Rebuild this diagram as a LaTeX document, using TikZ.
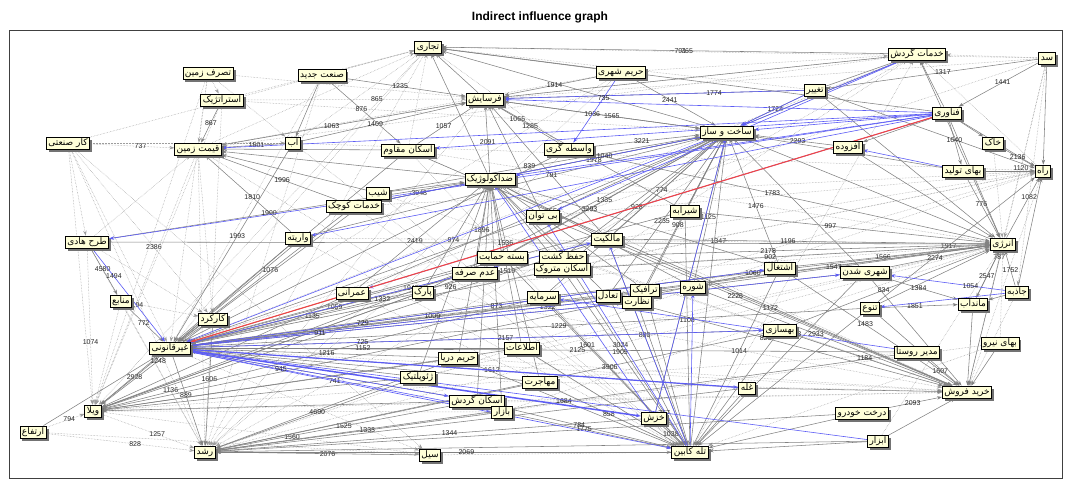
\documentclass[tikz,border=0pt]{standalone}
\usepackage{fontspec}
\setmainfont{Liberation Sans}
\newfontfamily\arabicfont[Script=Arabic]{DejaVu Sans}
\usepackage{tikz}
\usetikzlibrary{arrows.meta}
\usetikzlibrary{shadows}
\usetikzlibrary{backgrounds}
\TeXXeTstate=1
\definecolor{creme}{rgb}{1. 1. 0.85}
\definecolor{bleu}{rgb}{0.36 0.36 0.96}
\definecolor{rouge}{rgb}{0.94 0.27 0.27}
\definecolor{gris}{rgb}{0.45 0.45 0.45}
\newcommand{\fatxt}[1]{{\arabicfont\beginR #1\endR}}

\begin{document}
\begin{tikzpicture}[x=1pt,y=-1pt,>={Stealth[length=5pt,width=3.5pt]}]
	% STYLES
	\tikzstyle{concept} = [draw=black, fill=creme, line width=0.8pt, font=\fontsize{9}{10}\selectfont, inner xsep=2pt, inner ysep=1pt, text height=7pt, text depth=3pt, drop shadow={shadow xshift=2.5pt, shadow yshift=-2.5pt, fill=black!55, opacity=1}]
	\tikzstyle{faible} = [->, line width=0.5pt, draw=gris!70, densely dotted]
	\tikzstyle{fort} = [->, line width=0.55pt, draw=gris!90]
	\tikzstyle{moyen} = [->, line width=0.6pt, draw=bleu]
	\tikzstyle{tresfort} = [->, line width=1.1pt, draw=rouge]
	\tikzstyle{valeur} = [font=\fontsize{7}{7}\selectfont, inner sep=0.5pt, text=black!85]

	\useasboundingbox (0,0) rectangle (1070,480);
	\node[font=\bfseries\fontsize{12}{12}\selectfont] (titre) at (540,17) {Indirect influence graph};

	% NOEUDS
	\node[concept] (tej) at (428,47) {\fatxt{تجاری}};
	\node[concept] (khg) at (917,54) {\fatxt{خدمات گردش}};
	\node[concept] (sad) at (1047,58) {\fatxt{سد}};
	\node[concept] (tsz) at (208,73) {\fatxt{تصرف زمین}};
	\node[concept] (snj) at (322,75) {\fatxt{صنعت جدید}};
	\node[concept] (hsh) at (621,72) {\fatxt{حریم شهری}};
	\node[concept] (est) at (222,100) {\fatxt{استراتژیک}};
	\node[concept] (fer) at (485,99) {\fatxt{فرسایش}};
	\node[concept] (tag) at (815,90) {\fatxt{تغییر}};
	\node[concept] (fan) at (947,113) {\fatxt{فناوری}};
	\node[concept] (sks) at (727,132) {\fatxt{ساخت و ساز}};
	\node[concept] (kar) at (68,143) {\fatxt{کار صنعتی}};
	\node[concept] (qz) at (198,149) {\fatxt{قیمت زمین}};
	\node[concept] (ab) at (293,143) {\fatxt{آب}};
	\node[concept] (esm) at (408,150) {\fatxt{اسکان مقاوم}};
	\node[concept] (vas) at (569,149) {\fatxt{واسطه گری}};
	\node[concept] (afz) at (848,147) {\fatxt{افزوده}};
	\node[concept] (khk) at (993,143) {\fatxt{خاک}};
	\node[concept] (bt) at (963,171) {\fatxt{بهای تولید}};
	\node[concept] (rah) at (1043,171) {\fatxt{راه}};
	\node[concept] (zek) at (490,179) {\fatxt{ضداکولوژیک}};
	\node[concept] (shb) at (378,193) {\fatxt{شیب}};
	\node[concept] (kk) at (354,206) {\fatxt{خدمات کوچک}};
	\node[concept] (bit) at (543,216) {\fatxt{بی توان}};
	\node[concept] (shir) at (685,211) {\fatxt{شیرابه}};
	\node[concept] (var) at (298,238) {\fatxt{واریته}};
	\node[concept] (tah) at (87,242) {\fatxt{طرح هادی}};
	\node[concept] (mal) at (607,239) {\fatxt{مالکیت}};
	\node[concept] (enr) at (1003,244) {\fatxt{انرژی}};
	\node[concept] (bh) at (502,257) {\fatxt{بسته حمایت}};
	\node[concept] (hk) at (563,257) {\fatxt{حفظ کشت}};
	\node[concept] (ads) at (475,273) {\fatxt{عدم صرفه}};
	\node[concept] (emt) at (562,269) {\fatxt{اسکان متروک}};
	\node[concept] (esht) at (780,268) {\fatxt{اشتغال}};
	\node[concept] (shs) at (865,272) {\fatxt{شهری شدن}};
	\node[concept] (omr) at (352,293) {\fatxt{عمرانی}};
	\node[concept] (park) at (423,292) {\fatxt{پارک}};
	\node[concept] (srm) at (543,297) {\fatxt{سرمایه}};
	\node[concept] (taa) at (608,296) {\fatxt{تعادل}};
	\node[concept] (tra) at (645,290) {\fatxt{ترافیک}};
	\node[concept] (naz) at (637,302) {\fatxt{نظارت}};
	\node[concept] (shr) at (693,287) {\fatxt{شوره}};
	\node[concept] (jaz) at (1017,292) {\fatxt{جاذبه}};
	\node[concept] (mab) at (973,304) {\fatxt{ماندآب}};
	\node[concept] (tan) at (870,308) {\fatxt{تنوع}};
	\node[concept] (man) at (121,301) {\fatxt{منابع}};
	\node[concept] (kark) at (213,319) {\fatxt{کارکرد}};
	\node[concept] (beh) at (780,330) {\fatxt{بهسازی}};
	\node[concept] (gq) at (170,348) {\fatxt{غیرقانونی}};
	\node[concept] (ety) at (522,348) {\fatxt{اطلاعات}};
	\node[concept] (bn) at (1000,343) {\fatxt{بهای نیرو}};
	\node[concept] (mr) at (917,352) {\fatxt{مدیر روستا}};
	\node[concept] (hd) at (458,358) {\fatxt{حریم دریا}};
	\node[concept] (zh) at (418,377) {\fatxt{ژئوپلتیک}};
	\node[concept] (moh) at (540,382) {\fatxt{مهاجرت}};
	\node[concept] (gal) at (747,388) {\fatxt{غله}};
	\node[concept] (khf) at (967,392) {\fatxt{خرید فروش}};
	\node[concept] (eg) at (477,401) {\fatxt{اسکان گردش}};
	\node[concept] (baz) at (502,412) {\fatxt{بازار}};
	\node[concept] (vil) at (93,411) {\fatxt{ویلا}};
	\node[concept] (dkh) at (862,413) {\fatxt{درخت خودرو}};
	\node[concept] (khz) at (654,418) {\fatxt{خزش}};
	\node[concept] (irt) at (33,432) {\fatxt{ارتفاع}};
	\node[concept] (abz) at (878,441) {\fatxt{ابزار}};
	\node[concept] (rsh) at (205,452) {\fatxt{رشد}};
	\node[concept] (sil) at (430,455) {\fatxt{سیل}};
	\node[concept] (tk) at (690,452) {\fatxt{تله کابین}};

	\begin{scope}[on background layer]
	\draw[line width=1pt, draw=black!75] (9,30) rectangle (1062,478);

	% LIENS FAIBLES
	\foreach \a/\b/\n in {kar/qz/737, kar/kark/2386, kar/rsh/, kar/vil/, kar/tah/, kar/tej/, tsz/qz/, tsz/est/, tsz/fer/, est/fer/865, est/tej/, est/sks/1065,
		snj/tej/, qz/tej/, ab/tej/, sad/tej/791, sad/khg/, sad/enr/1120, sad/khf/787, irt/vil/794, irt/rsh/828, vil/rsh/1257, vil/sil/1560,
		tah/vil/1074, man/rsh/1136, tah/rsh/, qz/rsh/, qz/vil/2194, gq/sil/, bn/enr/, bn/tk/, khg/fer/, rah/khg/, sad/jaz/1082, jaz/khf/,
		rah/khf/, khk/enr/, man/vil/, tah/qz/, kar/sil/, irt/sil/, vil/baz/, sil/tk/, man/kark/, tsz/gq/, tsz/ab/, kar/ab/, khg/qz/,
		sad/fer/, fer/qz/, hsh/qz/, omr/enr/, var/enr/1347, kk/rah/, zek/khf/, esm/khf/, vas/rsh/, fer/rsh/, tej/rsh/, tej/gq/, hsh/gq/,
		hsh/rsh/, khg/rsh/, khg/gq/, sad/gq/, rah/gq/, rah/rsh/, enr/rsh/, khf/gq/, khf/vil/, bn/rsh/, mr/vil/, tej/vil/, est/vil/,
		kar/gq/, tah/kark/, qz/kark/, esm/tej/, vas/tej/, tag/tej/, hsh/khg/, ab/rah/, esm/enr/, shb/khf/, bit/rah/, tk/khg/, abz/enr/,
		bh/rah/, hk/khf/, ads/enr/, emt/rah/, srm/khg/, taa/rah/, ety/enr/, moh/khf/, hd/khf/, zh/enr/, eg/khf/, baz/enr/,
		omr/tk/, park/khf/, var/tk/, kk/tk/, shb/tk/, esm/tk/, ab/tk/, qz/tk/, est/rsh/, snj/rsh/, snj/gq/, tsz/vil/} {
		\draw[faible] (\a) -- node[valeur, pos=0.6] {\n} (\b);
	}

	% LIENS FORTS
	\foreach \a/\b/\n in {khg/tej/765, fer/tej/, hsh/tej/, sks/tej/, zek/tej/, fan/tej/,
		snj/fer/1235, esm/fer/1057, ab/fer/1409, qz/fer/1063, hsh/fer/1914, sks/fer/1565, vas/fer/1285, zek/fer/2091, bit/fer/, mal/fer/791, shir/fer/1978, tag/fer/, khg/fer/,
		hsh/sks/2441, fer/sks/1036, tag/sks/1724, afz/sks/2293, vas/sks/3221, zek/sks/, mal/sks/774, shir/sks/, enr/sks/, esht/sks/1476, shs/sks/, tra/sks/, khz/sks/, tk/sks/, bt/sks/,
		est/qz/867, ab/qz/1501, kk/qz/1996, var/qz/1810, zek/qz/, esm/qz/, shb/qz/, snj/ab/, snj/esm/876,
		irt/gq/, kark/gq/, man/gq/772, var/gq/, omr/gq/, park/gq/1135, srm/gq/, moh/gq/, eg/gq/, ety/gq/1152, hd/gq/1216, zh/gq/, taa/gq/, naz/gq/, shr/gq/, esht/gq/,
		gq/rsh/889, kark/rsh/1606, sil/rsh/2076, khz/rsh/1344, baz/rsh/1333, tk/rsh/2069, eg/rsh/1525, hd/rsh/, zh/rsh/4690, moh/rsh/, dkh/rsh/, abz/rsh/, mr/rsh/, beh/rsh/, gal/rsh/,
		gq/vil/2928, kark/vil/1248, omr/vil/, var/vil/, srm/vil/, park/vil/,
		bh/zek/, hk/zek/, mal/zek/1554, emt/zek/, omr/zek/2419, park/zek/974, esht/zek/, taa/zek/, tra/zek/, shr/zek/, kk/zek/3948, shb/zek/,
		tag/enr/, fan/enr/, afz/enr/, shs/enr/2274, jaz/enr/1752, mab/enr/2547, tan/enr/, esht/enr/1566, beh/enr/834, bt/enr/776,
		fan/rah/, khk/rah/2136, bt/rah/, sad/rah/, enr/rah/, jaz/rah/, tag/rah/, tan/rah/1917,
		mr/khf/1607, dkh/khf/2093, abz/khf/, bn/khf/, tan/khf/, mab/khf/, beh/khf/1184, gal/khf/, shs/khf/, enr/khf/,
		khz/tk/1038, gal/tk/, beh/tk/, dkh/tk/, abz/tk/, tan/tk/, shs/tk/, taa/tk/, tra/tk/, naz/tk/, ety/tk/,
		fan/khg/, tag/khg/, sks/khg/, enr/khg/, sad/fan/1441, sad/tag/1317, fan/khk/, fan/bt/1640, fan/afz/,
		jaz/mab/, shs/mab/1384, tan/mab/1851, enr/mab/, tah/man/4580, tah/zek/1990, tah/enr/1536,
		bh/sks/1335, hk/sks/, emt/sks/928, ads/zek/1896, ads/sks/3293, srm/sks/, taa/sks/2235, naz/sks/908, shr/sks/1125, bit/sks/, park/sks/,
		omr/sks/, var/sks/, kk/sks/, shb/sks/839, ety/zek/1519, moh/zek/, hd/zek/, zh/zek/926, eg/zek/, baz/zek/873,
		ads/gq/1059, bh/gq/, hk/gq/1332, emt/gq/, bit/gq/, mal/gq/1945, shir/gq/, kk/gq/1076, shb/gq/, esm/gq/1261, ab/gq/1993, vas/gq/, tra/gq/1009,
		esht/vil/, mal/vil/, bh/vil/, ads/vil/, hd/vil/, zh/vil/, eg/vil/, ety/vil/,
		srm/enr/1060, taa/enr/621, mal/enr/1196, hk/enr/2178, shir/enr/997, emt/enr/902, tra/enr/, shr/enr/1547,
		esm/khf/, mal/khf/1172, taa/khf/820, shr/khf/2933, hk/tk/3024, emt/tk/1905, srm/tk/3906, bh/tk/1601, mal/tk/880, moh/tk/858, hd/tk/1684, eg/tk/784, baz/tk/1775,
		vas/enr/1783, bit/khf/2226, shir/tk/1108, esht/khf/1483, esht/tk/1014, shs/gq/1322, tan/gq/1229, beh/gq/2157, mr/gq/2125, gal/gq/1612} {
		\draw[fort] (\a) -- node[valeur, pos=0.45] {\n} (\b);
	}

	% LIENS MOYENS
	\foreach \a/\b/\n in {fan/qz/, fan/fer/, fan/tah/, fan/zek/, fan/sks/, fan/var/, fan/esm/, fan/omr/, tag/sks/, tag/fer/1774, khg/sks/, khg/bit/,
		hsh/vas/735, tah/gq/1494, gq/tk/741, gq/eg/, gq/baz/945, gq/mal/, gq/shs/, gq/naz/911, gq/beh/725, gq/esht/729, jaz/shs/1054, jaz/tan/,
		mr/srm/1493, abz/gq/757, tk/mal/, tk/bit/, tk/shr/, khz/zek/, khz/sks/, sks/gq/, sks/kk/1040, bt/afz/} {
		\draw[moyen] (\a) -- node[valeur, pos=0.3] {\n} (\b);
	}
	\draw[moyen, line width=1.5pt] (gq) -- (khz);
	\draw[moyen, line width=1.2pt] (gq) -- (gal);

	% LIEN TRES FORT
	\draw[tresfort] (fan) -- (gq);
	\end{scope}
\end{tikzpicture}
\end{document}
